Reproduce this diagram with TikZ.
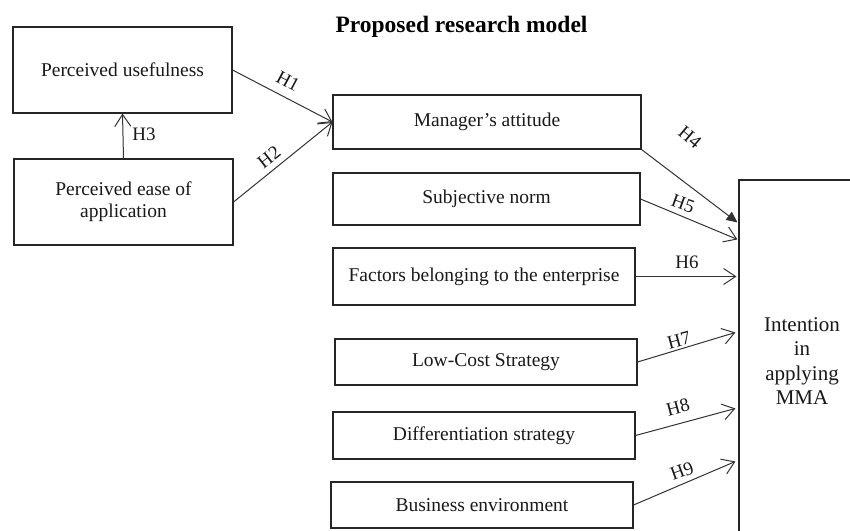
\documentclass[tikz,border=0pt]{standalone}
\usepackage{fontspec}
\setmainfont{Liberation Serif}
\usetikzlibrary{arrows.meta,calc}

\tikzset{
  box/.style={draw, line width=1.1pt, draw=black!85, rectangle, inner sep=0pt, align=center,
    font=\fontsize{19.5}{22}\selectfont, text=black!90},
  link/.style={line width=1pt, draw=black!80,
    -{Straight Barb[length=12pt,width=16pt,line width=1pt]}},
  solidlink/.style={line width=1pt, draw=black!80,
    -{Triangle[length=11pt,width=10pt]}},
  hyp/.style={font=\fontsize{19}{21}\selectfont, inner sep=0pt, text=black!90},
}

\begin{document}
\begin{tikzpicture}[x=1pt,y=-1pt]
  \clip (0,0) rectangle (850,530);
  \fill[white] (0,0) rectangle (850,530);

  % title
  \node[anchor=base, font=\fontsize{23.5}{26}\selectfont\bfseries] (title) at (461.5,32) {Proposed research model};

  % antecedents of attitude
  \node[box, minimum width=219pt, minimum height=86pt] (PU) at (122.5,70) {Perceived usefulness};
  \node[box, minimum width=219pt, minimum height=86pt] (PE) at (123.5,202) {Perceived ease of\\application};

  % factors
  \node[box, minimum width=308pt, minimum height=54pt] (MA) at (487,122) {Manager's attitude};
  \node[box, minimum width=307pt, minimum height=52pt] (SN) at (486.5,199) {Subjective norm};
  \node[box, minimum width=302pt, minimum height=57pt] (FE) at (484,276.5) {Factors belonging to the enterprise};
  \node[box, minimum width=302pt, minimum height=46pt] (LC) at (486,362) {Low-Cost Strategy};
  \node[box, minimum width=302pt, minimum height=47pt] (DS) at (484,435.5) {Differentiation strategy};
  \node[box, minimum width=302pt, minimum height=46pt] (BE) at (482,505) {Business environment};

  % outcome
  \node[box, minimum width=126pt, minimum height=362pt, font=\fontsize{21}{24.5}\selectfont] (IN) at (802,361) {Intention\\in\\applying\\MMA};

  % arrival points on the outcome box
  \coordinate (t4) at ($(IN.north west)+(-1,43)$);
  \coordinate (t5) at ($(IN.north west)+(-1,60)$);
  \coordinate (t7) at ($(IN.north west)+(-3,153)$);
  \coordinate (t8) at ($(IN.north west)+(-3,229)$);
  \coordinate (t9) at ($(IN.north west)+(-3,282)$);

  % connectors
  \draw[link] (PU.east) -- (MA.west);
  \draw[link] (PE.east) -- (MA.west);
  \draw[link] (PE.north) -- (PU.south);
  \draw[solidlink] (MA.south east) -- (t4);
  \draw[link] (SN.east) -- (t5);
  \draw[link, shorten >=2pt] (FE.east) -- (FE.east -| IN.west);
  \draw[link] (LC.east) -- (t7);
  \draw[link] (DS.east) -- (t8);
  \draw[link] (BE.east) -- (t9);

  % hypothesis labels
  \node[hyp, rotate=-28] (h1) at (288,81) {H1};
  \node[hyp, rotate=38] (h2) at (269,157) {H2};
  \node[hyp] (h3) at (144,134) {H3};
  \node[hyp, rotate=-40] (h4) at (690,137) {H4};
  \node[hyp, rotate=-20] (h5) at (683,204) {H5};
  \node[hyp] (h6) at (687,262) {H6};
  \node[hyp, rotate=15] (h7) at (679,340) {H7};
  \node[hyp, rotate=15] (h8) at (678,407) {H8};
  \node[hyp, rotate=20] (h9) at (682,471) {H9};
\end{tikzpicture}
\end{document}
